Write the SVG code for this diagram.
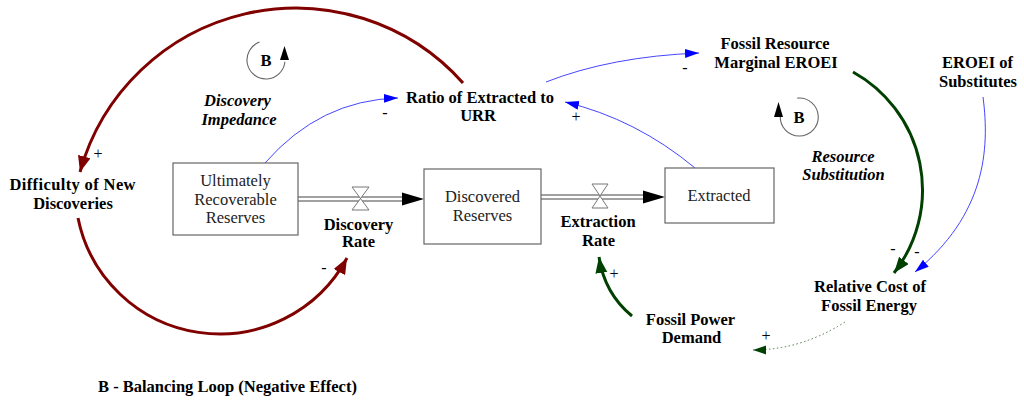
<svg xmlns="http://www.w3.org/2000/svg" width="1024" height="406" viewBox="0 0 1024 406" font-family="'Liberation Serif', 'DejaVu Serif', serif">
<style>
text{font-family:'Liberation Serif','DejaVu Serif',serif;fill:#000;text-anchor:middle}
.b{font-weight:bold;font-size:16.5px}
.bi{font-weight:bold;font-style:italic;font-size:16.5px}
.r{font-size:16.5px;fill:#222}
.s{font-size:16px}
.box{fill:#fff;stroke:#666;stroke-width:1.2}
.pipe{stroke:#444;stroke-width:1.1;fill:none}
.valve{fill:#fff;stroke:#777;stroke-width:1}
.red{fill:none;stroke:#800000;stroke-width:3}
.grn{fill:none;stroke:#004000;stroke-width:3}
.blu{fill:none;stroke:#3030ff;stroke-width:0.9}
.dot{fill:none;stroke:#4a7a4a;stroke-width:1;stroke-dasharray:1.5 2.5}
.loop{fill:none;stroke:#666;stroke-width:1.1}
</style>
<defs>
<marker id="mr" markerUnits="userSpaceOnUse" markerWidth="17" markerHeight="13" refX="16" refY="6.5" orient="auto"><path d="M0,0 L16,6.5 L0,13 z" fill="#800000"/></marker>
<marker id="mg" markerUnits="userSpaceOnUse" markerWidth="17" markerHeight="13" refX="16" refY="6" orient="auto"><path d="M0,0 L16,6 L0,12 z" fill="#004000"/></marker>
<marker id="mb" markerUnits="userSpaceOnUse" markerWidth="15" markerHeight="10" refX="14" refY="4.5" orient="auto"><path d="M0,0 L14,4.5 L0,9 z" fill="#0000ff"/></marker>
<marker id="md" markerUnits="userSpaceOnUse" markerWidth="14" markerHeight="10" refX="13" refY="4.5" orient="auto"><path d="M0,0 L13,4.5 L0,9 z" fill="#004000"/></marker>
</defs>
<rect width="1024" height="406" fill="#fff"/>

<g id="connectors">
<path class="red" d="M463,83 A224,224 0 0 0 80,172" marker-end="url(#mr)"/>
<path class="red" d="M78,218 A144.6,144.6 0 0 0 347,258" marker-end="url(#mr)"/>
<path class="blu" d="M265,163 Q320,100 398,98" marker-end="url(#mb)"/>
<path class="blu" d="M695,168 Q636,119 565,102" marker-end="url(#mb)"/>
<path class="blu" d="M546,82 Q611,56.5 699,53" marker-end="url(#mb)"/>
<path class="grn" d="M853,72 A135,135 0 0 1 894,273" marker-end="url(#mg)"/>
<path class="blu" d="M983,97 C990,150 985,215 915,272" marker-end="url(#mb)"/>
<path class="dot" d="M845,322 Q801,350 753,350" marker-end="url(#md)"/>
<path class="grn" d="M632,316 Q604.5,293.5 599,257" marker-end="url(#mg)"/>
<text class="s" x="98" y="159">+</text>
<text class="s" x="385" y="118">-</text>
<text class="s" x="685" y="73">-</text>
<text class="s" x="576" y="122">+</text>
<text class="s" x="324" y="273">-</text>
<text class="s" x="893" y="254">-</text>
<text class="s" x="917" y="257">-</text>
<text class="s" x="614" y="279">+</text>
<text class="s" x="766" y="341">+</text>
</g>

<g id="flow-discovery">
<line class="pipe" x1="298" y1="197" x2="404" y2="197"/>
<line class="pipe" x1="298" y1="201" x2="404" y2="201"/>
<polygon points="402,192.5 424,199 402,205.5" fill="#000"/>
<polygon class="valve" points="352,187 369,187 352,210 369,210"/>
</g>
<g id="flow-extraction">
<line class="pipe" x1="541" y1="195" x2="645" y2="195"/>
<line class="pipe" x1="541" y1="199" x2="645" y2="199"/>
<polygon points="643,190.5 665,197 643,203.5" fill="#000"/>
<polygon class="valve" points="592,184 608,184 592,208 608,208"/>
</g>

<g id="node-urr">
<rect class="box" x="173" y="163" width="125" height="72"/>
<text class="r" x="235.5" y="186">Ultimately</text>
<text class="r" x="235.5" y="205">Recoverable</text>
<text class="r" x="235.5" y="223">Reserves</text>
</g>
<g id="node-discovered">
<rect class="box" x="424" y="169" width="117" height="75"/>
<text class="r" x="482.5" y="202">Discovered</text>
<text class="r" x="482.5" y="221">Reserves</text>
</g>
<g id="node-extracted">
<rect class="box" x="665" y="168" width="109" height="55"/>
<text class="r" x="719" y="201">Extracted</text>
</g>

<g id="node-difficulty">
<text class="b" x="72.5" y="190" textLength="126" lengthAdjust="spacing">Difficulty of New</text>
<text class="b" x="73" y="209">Discoveries</text>
</g>
<g id="node-ratio">
<text class="b" x="480" y="103">Ratio of Extracted to</text>
<text class="b" x="478" y="121">URR</text>
</g>
<g id="node-fossil-eroei">
<text class="b" x="775" y="49">Fossil Resource</text>
<text class="b" x="776" y="68">Marginal EROEI</text>
</g>
<g id="node-eroei-subs">
<text class="b" x="977.5" y="68">EROEI of</text>
<text class="b" x="978" y="87">Substitutes</text>
</g>
<g id="node-discovery-rate">
<text class="b" x="358.5" y="230">Discovery</text>
<text class="b" x="358.5" y="247">Rate</text>
</g>
<g id="node-extraction-rate">
<text class="b" x="598" y="227">Extraction</text>
<text class="b" x="598.5" y="246">Rate</text>
</g>
<g id="node-relative-cost">
<text class="b" x="870" y="292">Relative Cost of</text>
<text class="b" x="869" y="311">Fossil Energy</text>
</g>
<g id="node-power-demand">
<text class="b" x="690.5" y="325">Fossil Power</text>
<text class="b" x="691.5" y="343">Demand</text>
</g>

<g id="loop-discovery">
<path class="loop" d="M259.5,42.1 A19,19 0 1 0 284.9,61.7"/>
<polygon points="284.5,46 280,60 289,60" fill="#000"/>
<text class="b" x="266" y="66">B</text>
<text class="bi" x="237.5" y="106">Discovery</text>
<text class="bi" x="239" y="125">Impedance</text>
</g>
<g id="loop-substitution">
<path class="loop" d="M797.3,98.1 A19,19 0 1 1 780.3,116"/>
<polygon points="778.5,102 774,117 783,117" fill="#000"/>
<text class="b" x="799" y="123">B</text>
<text class="bi" x="843" y="162">Resource</text>
<text class="bi" x="843.5" y="180">Substitution</text>
</g>

<g id="legend">
<text class="b" x="98" y="392" style="text-anchor:start">B - Balancing Loop (Negative Effect)</text>
</g>
</svg>
